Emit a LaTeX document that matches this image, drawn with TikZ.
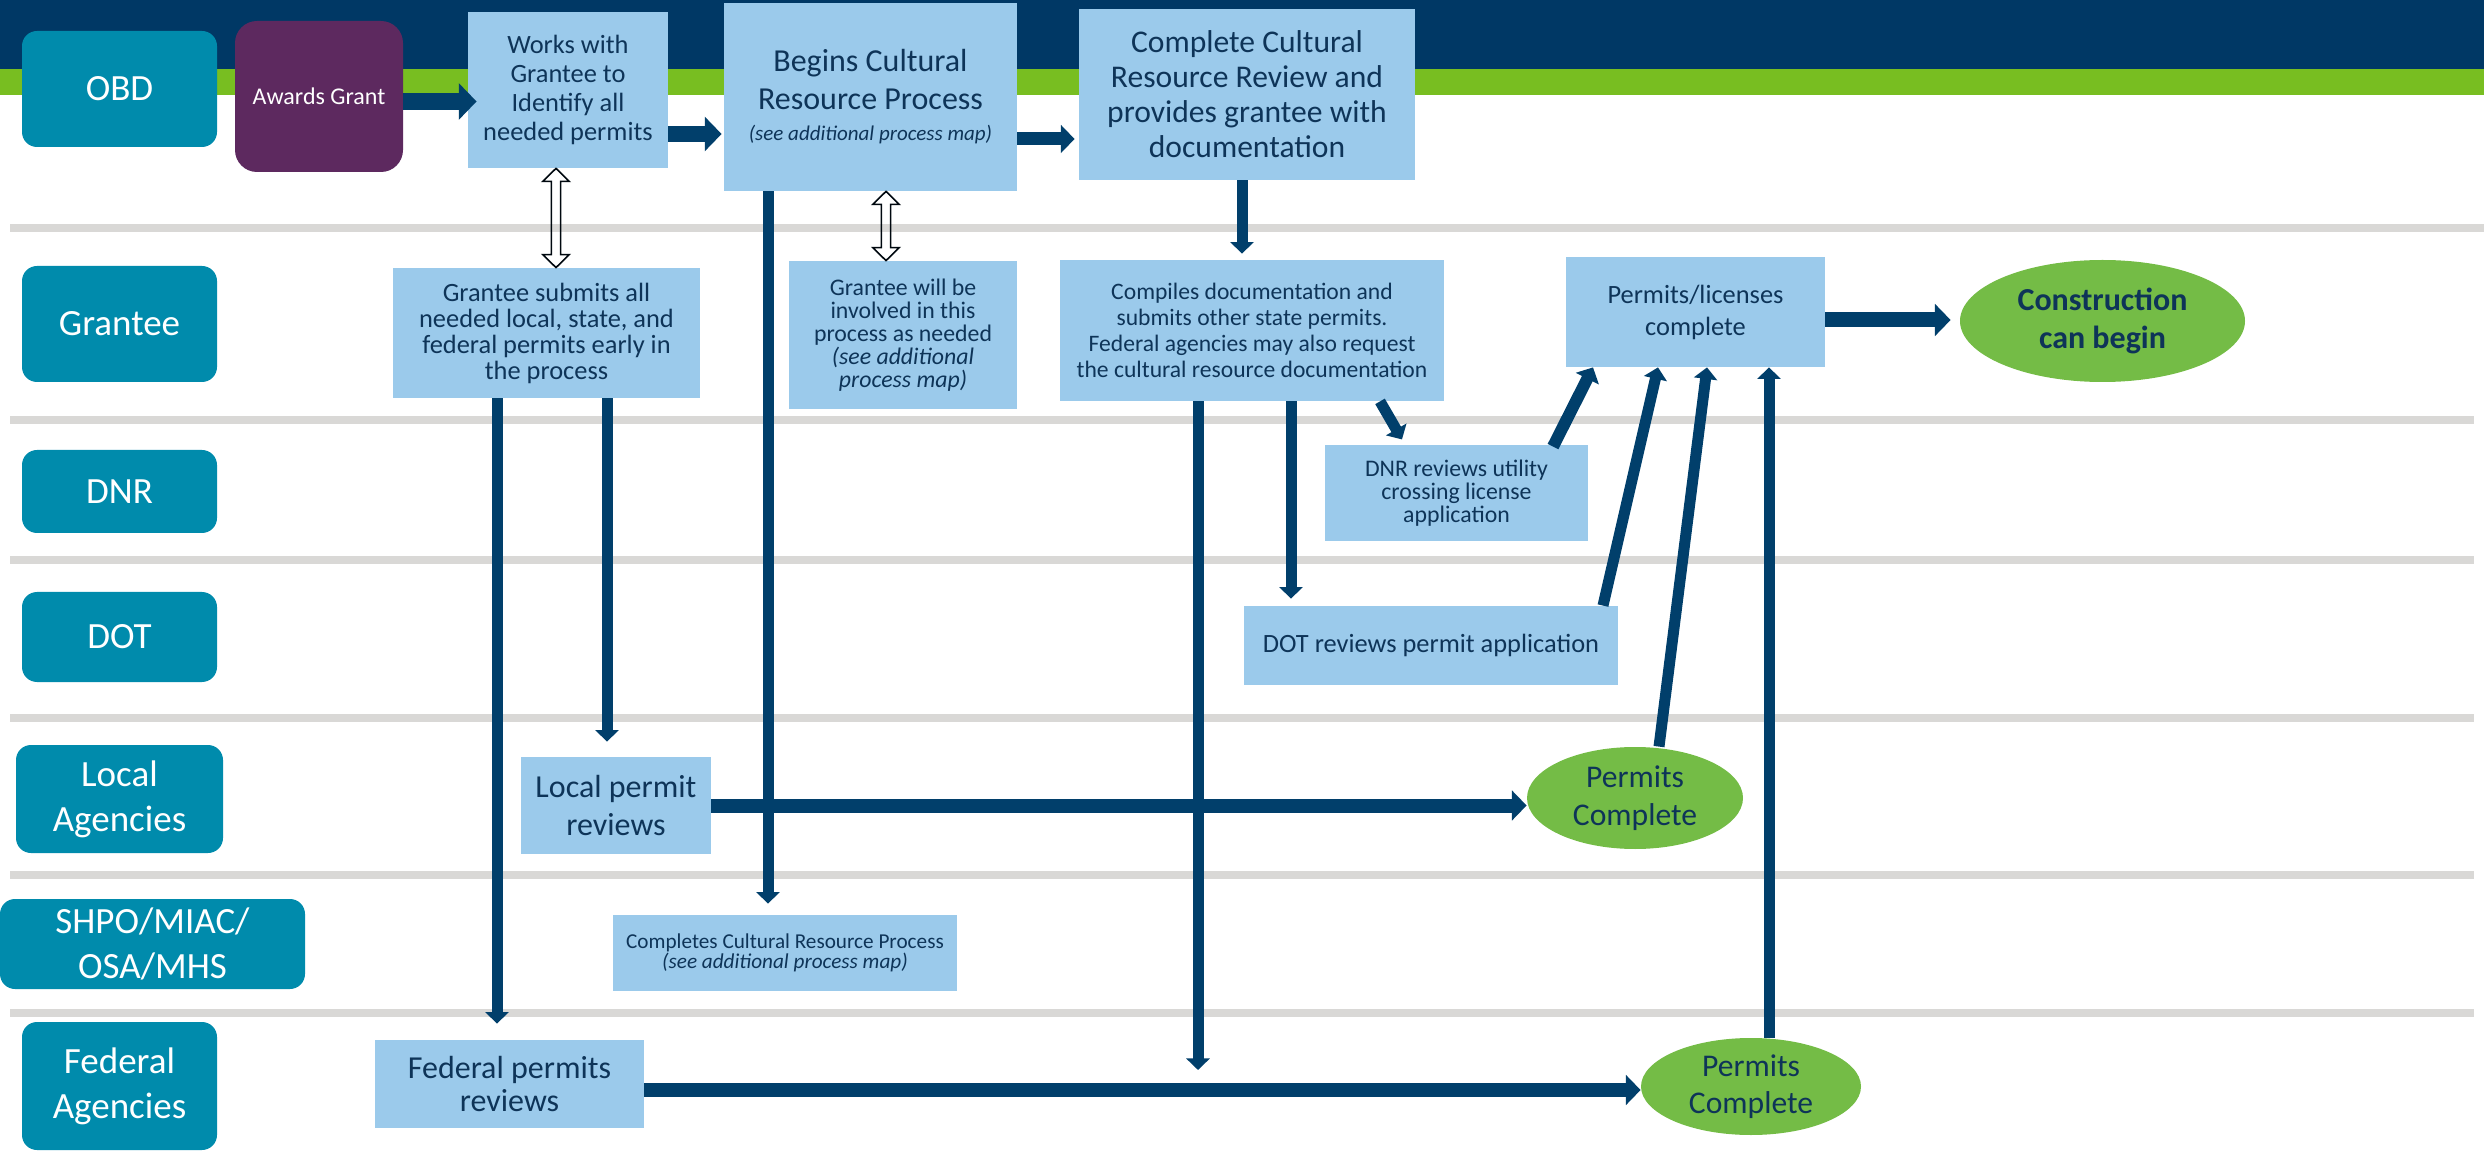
\documentclass[tikz,border=0pt]{standalone}
\usepackage{fontspec}
\setmainfont{Carlito}
\usepackage{xcolor}
\usepackage{tikz}
\usetikzlibrary{arrows.meta,calc,shapes.geometric}
\definecolor{mnblue}{HTML}{003865}
\definecolor{mngreen}{HTML}{78BE21}
\definecolor{laneteal}{HTML}{008BAC}
\definecolor{grantpurple}{HTML}{5D295F}
\definecolor{steplight}{HTML}{9BCAEB}
\definecolor{donegreen}{HTML}{74BC46}
\definecolor{lanegray}{HTML}{D9D8D6}
\definecolor{arrownavy}{HTML}{013F6B}
\definecolor{boxtext}{HTML}{0E3458}
\newcommand\fsz[2]{\fontsize{#1}{#2}\selectfont}
\pgfkeys{tikz/boxsize/.style 2 args={minimum width=#1*0.5pt,minimum height=#2*0.5pt}}
\pgfkeys{tikz/lanebox/.style={rectangle,rounded corners=7.5pt,fill=laneteal,text=white,align=center,inner sep=0pt,font=\fsz{18.5}{22.5}}}
\pgfkeys{tikz/stepbox/.style={rectangle,fill=steplight,text=boxtext,align=center,inner sep=0pt}}
\pgfkeys{tikz/donebox/.style={ellipse,fill=donegreen,text=boxtext,align=center,inner sep=0pt}}
\pgfkeys{tikz/navyarrow/.style={draw=arrownavy,line width=#1,-{Triangle[length=0pt 1.05,width=0pt 2.1]}}}
\pgfkeys{tikz/flow/.style={navyarrow=5.5pt}}
\pgfkeys{tikz/lanerule/.style={draw=lanegray,line width=4pt}}
\pgfkeys{tikz/dblarrow/.style={draw=black!85!mnblue,line width=0.8pt,line join=miter}}
% hollow two-headed arrow between two anchors (x taken from the first)
\newcommand*\dblarrow[2]{
    \draw[dblarrow] let \p1=(#1), \p2=(#2) in
        (\x1,\y1) -- (\x1+6.6pt,\y1-6.5pt) -- (\x1+2.3pt,\y1-6.5pt) -- (\x1+2.3pt,\y2+6.5pt)
        -- (\x1+6.6pt,\y2+6.5pt) -- (\x1,\y2) -- (\x1-6.6pt,\y2+6.5pt) -- (\x1-2.3pt,\y2+6.5pt)
        -- (\x1-2.3pt,\y1-6.5pt) -- (\x1-6.6pt,\y1-6.5pt) -- cycle;
}

\begin{document}
\begin{tikzpicture}[x=0.5pt,y=-0.5pt]
    \useasboundingbox (0,0) rectangle (2484,1154);
    % header bands and lane rules
    \fill[mnblue] (0,0) rectangle (2484,69);
    \fill[mngreen] (0,69) rectangle (2484,95);
    \draw[lanerule] (10,228) -- (2484,228);
    \foreach \ry in {420,560,718,875,1013}
        \draw[lanerule] (10,\ry) -- (2474,\ry);
    % lanes
    \node[lanebox,boxsize={195}{116}] (obd) at (119.5,89) {OBD};
    \node[lanebox,boxsize={195}{116}] (grantee) at (119.5,324) {Grantee};
    \node[lanebox,boxsize={195}{83}] (dnr) at (119.5,491.5) {DNR};
    \node[lanebox,boxsize={195}{90}] (dot) at (119.5,637) {DOT};
    \node[lanebox,boxsize={207}{108}] (local) at (119.5,799) {Local\\Agencies};
    \node[lanebox,boxsize={305}{90}] (shpo) at (152.5,944) {SHPO/MIAC/\\OSA/MHS};
    \node[lanebox,boxsize={195}{128}] (federal) at (119.5,1086) {Federal\\Agencies};
    % steps
    \node[rectangle,rounded corners=11pt,fill=grantpurple,text=white,inner sep=0pt,boxsize={168}{151},font=\fsz{12}{14}] (award) at (319,96.5) {Awards Grant};
    \node[stepbox,boxsize={200}{156},font=\fsz{13.2}{14.5}] (works) at (568,90) {Works with\\Grantee to\\Identify all\\needed permits};
    \node[stepbox,boxsize={293}{188},font=\fsz{16}{19}] (begins) at (870.5,97) {Begins Cultural\\Resource Process\\[-3.5pt]{\itshape\fsz{10.5}{12}(see additional process map)}};
    \node[stepbox,boxsize={336}{171},font=\fsz{15.8}{17.5}] (review) at (1247,94.5) {Complete Cultural\\Resource Review and\\provides grantee with\\documentation};
    \node[stepbox,boxsize={307}{130},font=\fsz{13.2}{13}] (submit) at (546.5,333) {Grantee submits all\\needed local, state, and\\federal permits early in\\the process};
    \node[stepbox,boxsize={228}{148},font=\fsz{11.9}{11.5}] (involve) at (903,335) {Grantee will be\\involved in this\\process as needed\\\textit{(see additional}\\\textit{process map)}};
    \node[stepbox,boxsize={384}{141},font=\fsz{11.8}{13}] (compile) at (1252,330.5) {Compiles documentation and\\submits other state permits.\\Federal agencies may also request\\the cultural resource documentation};
    \node[stepbox,boxsize={259}{110},font=\fsz{13.2}{16}] (permlic) at (1695.5,312) {Permits/licenses\\complete};
    \node[donebox,boxsize={285}{122},font=\bfseries\fsz{16}{19}] (build) at (2102.5,321) {Construction\\can begin};
    \node[stepbox,boxsize={263}{96},font=\fsz{11.9}{11.5}] (dnrrev) at (1456.5,493) {DNR reviews utility\\crossing license\\application};
    \node[stepbox,boxsize={374}{79},font=\fsz{13.2}{15}] (dotrev) at (1431,645.5) {DOT reviews permit application};
    \node[stepbox,boxsize={190}{97},font=\fsz{16}{18.7}] (localrev) at (616,805.5) {Local permit\\reviews};
    \node[donebox,boxsize={216}{102},font=\fsz{15.8}{18.7}] (localdone) at (1635,798) {Permits\\Complete};
    \node[stepbox,boxsize={344}{76},font=\fsz{10.6}{10}] (shporev) at (785,953) {Completes Cultural Resource Process\\\textit{(see additional process map)}};
    \node[stepbox,boxsize={269}{88},font=\fsz{16}{16.8}] (fedrev) at (509.5,1084) {Federal permits\\reviews};
    \node[donebox,boxsize={220}{97},font=\fsz{15.8}{18.7}] (feddone) at (1751,1086.5) {Permits\\Complete};
    % OBD lane arrows
    \draw[navyarrow=8.5pt,shorten >=-4.5pt] ([yshift=-2.5pt]award.east) -- ([yshift=-2.5pt]award.east -| works.west);
    \draw[navyarrow=8pt,shorten >=1pt] ([yshift=-22pt]works.east) -- ([yshift=-22pt]works.east -| begins.west);
    \draw[navyarrow=6.5pt,shorten >=2pt] ([yshift=-21pt]begins.east) -- ([yshift=-21pt]begins.east -| review.west);
    \dblarrow{[xshift=-6pt]works.south}{submit.north}
    \dblarrow{[xshift=7.75pt]begins.south}{involve.north}
    % down the lanes
    \draw[flow,shorten >=3pt] ([xshift=-2.5pt]review.south) -- ([xshift=-2.5pt]review.south |- compile.north);
    \draw[flow,shorten >=8pt] ([xshift=-24.75pt]submit.south) -- ([xshift=-24.75pt]submit.south |- fedrev.north);
    \draw[flow,shorten >=7.5pt] ([xshift=30.25pt]submit.south) -- ([xshift=30.25pt]submit.south |- localrev.north);
    \draw[flow,shorten >=5.5pt] ([xshift=-51.25pt]begins.south) -- ([xshift=-51.25pt]begins.south |- shporev.north);
    \coordinate (fedjoin) at ([xshift=-27pt]compile.south |- fedrev.east);
    \draw[flow,shorten >=7pt] ([xshift=-27pt]compile.south) -- (fedjoin);
    \draw[flow,shorten >=3.5pt] ([xshift=19.5pt]compile.south) -- ([xshift=19.5pt]compile.south |- dotrev.north);
    \draw[flow,shorten >=3pt] ([xshift=64pt]compile.south) -- ([xshift=-25.75pt]dnrrev.north);
    % back up to the permits
    \draw[navyarrow=6pt] ([xshift=48.25pt,yshift=-1pt]dnrrev.north) -- ([xshift=-51.25pt]permlic.south);
    \draw[flow] ([xshift=86pt]dotrev.north) -- ([xshift=-18.75pt]permlic.south);
    \draw[flow] ([xshift=12pt]localdone.north) -- ([xshift=5.75pt]permlic.south);
    \draw[flow] ([xshift=9pt]feddone.north) -- ([xshift=9pt]feddone.north |- permlic.south);
    \draw[navyarrow=7pt] (localrev.east) -- (localrev.east -| localdone.west);
    \draw[navyarrow=7pt] ([yshift=-3pt]fedrev.east) -- ([yshift=-3pt]fedrev.east -| feddone.west);
    \draw[navyarrow=7.5pt,shorten >=4.5pt] ([yshift=-4pt]permlic.east) -- ([yshift=-4pt]permlic.east -| build.west);
\end{tikzpicture}
\end{document}
